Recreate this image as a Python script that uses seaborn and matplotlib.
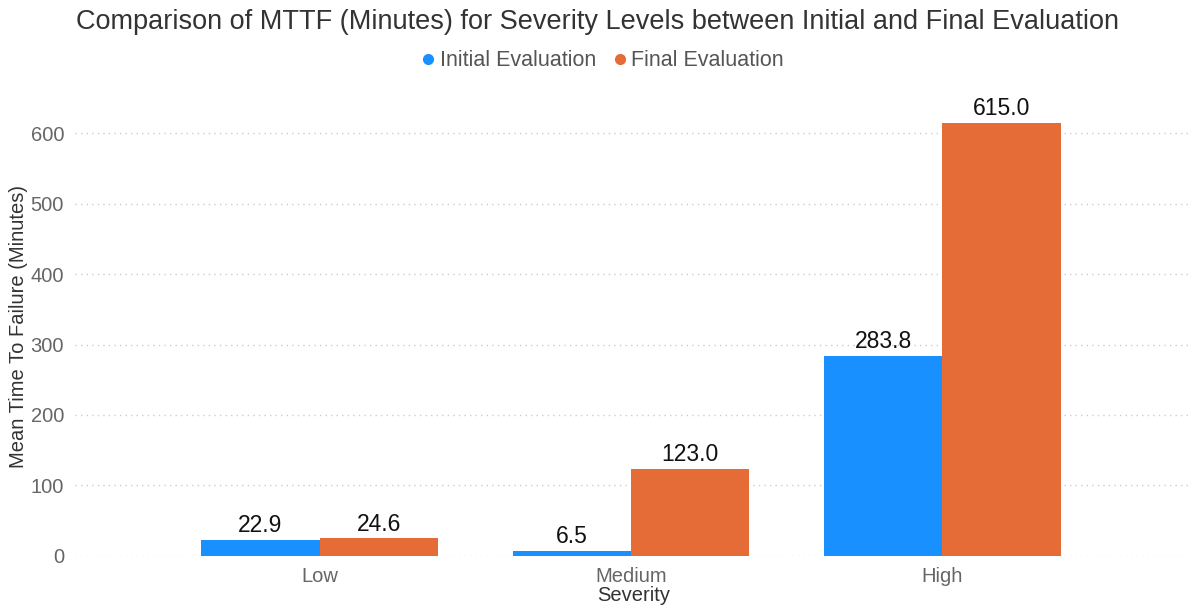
import pandas as pd
import seaborn as sns
import matplotlib.pyplot as plt
from matplotlib.lines import Line2D

severity = ["Low", "Medium", "High"]
initial_mttf = [22.9, 6.5, 283.8]
final_mttf = [24.6, 123.0, 615.0]
series_names = ["Initial Evaluation", "Final Evaluation"]

df = pd.DataFrame({
    "Severity": severity * 2,
    "MTTF": initial_mttf + final_mttf,
    "Evaluation": [series_names[0]] * 3 + [series_names[1]] * 3,
})

colors = ["#1890ff", "#e56b37"]

sns.set_style("white")
plt.rcParams["font.family"] = ["Liberation Sans", "DejaVu Sans"]

fig = plt.figure(figsize=(11.94, 6.06), dpi=100)
ax = fig.add_axes([0.063, 0.083, 0.935, 0.755])

sns.barplot(data=df, x="Severity", y="MTTF", hue="Evaluation", order=severity,
            hue_order=series_names, palette=colors, width=0.76, saturation=1,
            edgecolor="none", ax=ax, legend=False)

for cont in ax.containers:
    ax.bar_label(cont, fmt="%.1f", padding=2, fontsize=16.5, color="#111111")

ax.set_xlim(-0.785, 2.8)
ax.set_ylim(0, 650)
ax.set_yticks([0, 100, 200, 300, 400, 500, 600])
ax.yaxis.grid(True, linestyle=(0, (1, 3)), color="#cccccc", linewidth=1)
ax.set_axisbelow(True)
for s in ax.spines.values():
    s.set_visible(False)
ax.tick_params(axis="both", length=0, labelsize=14.5, labelcolor="#666666", pad=8)

ax.set_xlabel("Severity", fontsize=14.5, color="#333333", labelpad=0)
ax.set_ylabel("Mean Time To Failure (Minutes)", fontsize=14.5, color="#333333", labelpad=2)

fig.suptitle("Comparison of MTTF (Minutes) for Severity Levels between Initial and Final Evaluation",
             fontsize=19.5, color="#333333", y=0.985)

handles = [Line2D([], [], marker="o", linestyle="none", markersize=7,
                  markerfacecolor=c, markeredgecolor=c) for c in colors]
fig.legend(handles, series_names, loc="center", bbox_to_anchor=(0.503, 0.9),
           ncol=2, frameon=False, fontsize=15.5, labelcolor="#555555",
           handletextpad=0.05, columnspacing=0.6, handlelength=1.0)

fig.savefig("out.png", dpi=100)
